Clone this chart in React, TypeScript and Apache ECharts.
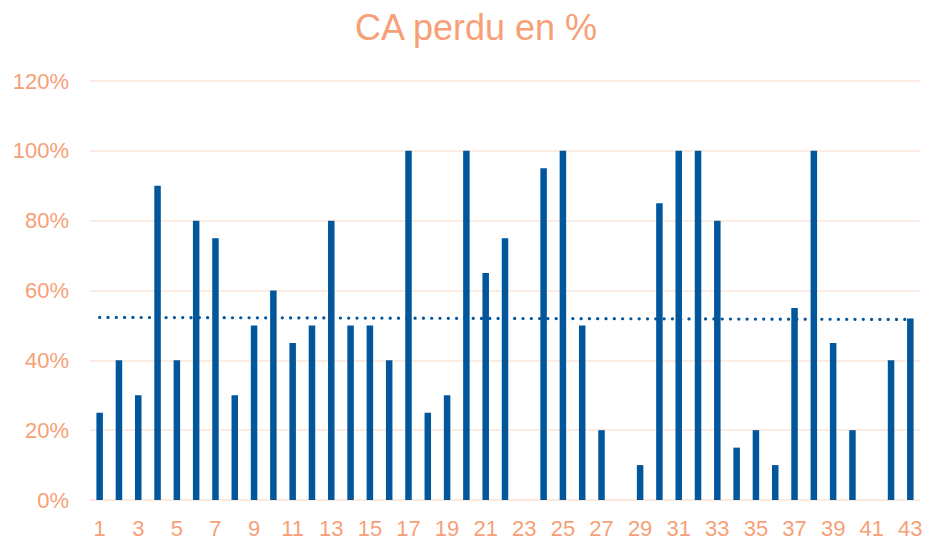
import React, { useEffect, useRef } from "react";
import * as echarts from "echarts";

const categories: string[] = Array.from({ length: 43 }, (_, i) => String(i + 1));
const lossPct: number[] = [
  25, 40, 30, 90, 40, 80, 75, 30, 50, 60,
  45, 50, 80, 50, 50, 40, 100, 25, 30, 100,
  65, 75, 0, 95, 100, 50, 20, 0, 10, 85,
  100, 100, 80, 15, 20, 10, 55, 100, 45, 20,
  0, 40, 52,
];
const yTicks: number[] = [0, 20, 40, 60, 80, 100, 120];
// trend line values read at first and last category
const trendStart = 52.3;
const trendEnd = 51.7;

const trendData: (number | null)[] = categories.map((_, i) =>
  i === 0 ? trendStart : i === categories.length - 1 ? trendEnd : null
);

const SALMON = "#F7A077";
const BLUE = "#01569C";
const GRID = "#FCE6DA";

export default function App() {
  const ref = useRef<HTMLDivElement>(null);
  useEffect(() => {
    if (!ref.current) return;
    const chart = echarts.init(ref.current, undefined, { renderer: "svg" });
    chart.setOption({
      animation: false,
      backgroundColor: "#ffffff",
      title: {
        text: "CA perdu en %",
        left: 471,
        top: 4,
        textAlign: "center",
        textStyle: {
          color: SALMON,
          fontFamily: "Liberation Sans, Arial, sans-serif",
          fontSize: 36,
          fontWeight: "normal",
        },
      },
      grid: { left: 90, right: 7, top: 81, bottom: 38, containLabel: false },
      xAxis: {
        type: "category",
        data: categories,
        axisLine: { show: true, lineStyle: { color: GRID, width: 1.5 } },
        axisTick: { show: false },
        axisLabel: {
          interval: 1,
          color: SALMON,
          fontFamily: "Liberation Sans, Arial, sans-serif",
          fontSize: 22,
          margin: 17,
        },
      },
      yAxis: {
        type: "value",
        min: 0,
        max: 120,
        interval: 20,
        axisLine: { show: false },
        axisTick: { show: false },
        splitLine: { show: true, lineStyle: { color: GRID, width: 1.5 } },
        axisLabel: {
          color: SALMON,
          fontFamily: "Liberation Sans, Arial, sans-serif",
          fontSize: 22,
          margin: 21,
          formatter: (v: number) => (yTicks.includes(v) ? v + "%" : ""),
        },
      },
      series: [
        {
          type: "bar",
          data: lossPct,
          barWidth: 6.5,
          itemStyle: { color: BLUE },
        },
        {
          type: "line",
          data: trendData,
          connectNulls: true,
          symbol: "none",
          silent: true,
          lineStyle: { color: BLUE, width: 3.2, type: [0.1, 8.2], cap: "round" },
        },
      ],
    });
    return () => chart.dispose();
  }, []);
  return <div ref={ref} style={{ width: 927, height: 539, position: "absolute", left: 0, top: 0 }} />;
}
